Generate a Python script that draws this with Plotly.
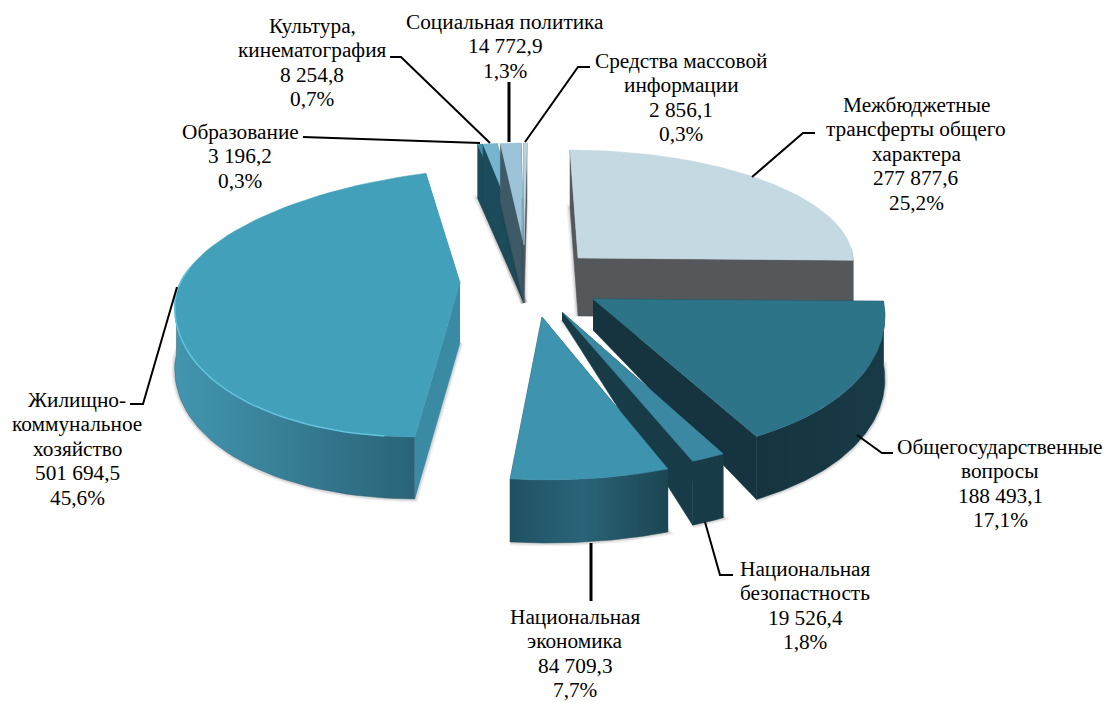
import numpy as np
import plotly.graph_objects as go

# clockwise from 12 o'clock
categories = [["Межбюджетные", "трансферты общего", "характера"], ["Общегосударственные", "вопросы"],
              ["Национальная", "безопастность"], ["Национальная", "экономика"],
              ["Жилищно-", "коммунальное", "хозяйство"], ["Образование"], ["Культура,", "кинематография"],
              ["Социальная политика"], ["Средства массовой", "информации"]]
amounts = [277877.6, 188493.1, 19526.4, 84709.3, 501694.5, 3196.2, 8254.8, 14772.9, 2856.1]
amount_labels = ["277 877,6", "188 493,1", "19 526,4", "84 709,3", "501 694,5", "3 196,2", "8 254,8", "14 772,9", "2 856,1"]
percent_labels = ["25,2%", "17,1%", "1,8%", "7,7%", "45,6%", "0,3%", "0,7%", "1,3%", "0,3%"]

# fake perspective, one set per slice: apex x/y, x radius, y radius above/below apex, skew x, skew y, depth at rim/apex
cx = [578, 593, 562, 542, 460, 524, 524, 524, 524]
cy = [258, 299, 312, 317, 283, 245, 245, 245, 245]
rx = [275, 290, 310, 333, 285, 263, 298, 245, 213]
ry_top = [108, 108, 108, 108, 114, 102, 102, 102, 102]
ry_bot = [155, 155, 160, 163, 153, 155, 155, 155, 155]
skew_x = [-8, -33, -20, -6, 13, -3, 3, 1, 3]
skew_y = [0, 0, 0, 0, -17, 0, 0, 0, 0]
depth_rim = [58, 63, 64, 63, 62, 54, 56, 58, 58]
depth_apex = [58, 31, 8, 30, 60, 58, 58, 58, 58]

top_colors = ["#C5D9E3", "#2E7488", "#3A88A2", "#3E93AE", "#43A0BA", "#3C8CA6", "#76B5CE", "#9CC3D7", "#B9D3DF"]
wall_colors = ["#54585B", "#15343F", "#173C48", "#1D4A5A", "#3A8AA4", "#1C4C5C", "#1C4C5C", "#3E5A66", "#55595C"]
rim_scales = [
    [[0, "#54585B"], [1, "#54585B"]],
    [[0, "#15343F"], [1, "#183A46"]],
    [[0, "#173C48"], [1, "#173C48"]],
    [[0, "#1F5163"], [0.45, "#2A6478"], [1, "#1C4552"]],
    [[0, "#4296B0"], [0.55, "#357A91"], [1, "#2A6377"]],
    [[0, "#1C4C5C"], [1, "#1C4C5C"]],
    [[0, "#1C4C5C"], [1, "#1C4C5C"]],
    [[0, "#3E5A66"], [1, "#3E5A66"]],
    [[0, "#55595C"], [1, "#55595C"]],
]
highlights = [None, None, None, None, "#63C3DD", None, None, None, None]

# far slices first
draw_order = [0, 5, 6, 7, 8, 4, 1, 2, 3]

# label centre x, y of the first line
label_x = [916, 1000, 805, 575, 77, 240, 312, 505, 681]
label_y = [105, 447, 569, 617, 400, 132, 26, 22, 61]
line_step = 24.4

leaders = [
    ([752, 803, 815], [177, 133, 133], 2),
    ([857, 882, 893], [435, 453, 453], 2),
    ([705, 720, 733], [522, 575, 575], 2),
    ([591, 591], [543, 601], 3),
    ([177, 143, 130], [287, 404, 404], 2),
    ([303, 480], [137, 143], 2),
    ([390, 401, 490], [57, 57, 143], 2),
    ([509, 509], [82, 142], 3),
    ([525, 578, 590], [142, 67, 67], 2),
]

total = sum(amounts)
edges = np.concatenate([[0], np.cumsum(amounts)]) / total * 2 * np.pi


def rim(i, t):
    ry = np.where(np.cos(t) > 0, ry_top[i], ry_bot[i])
    x = cx[i] + rx[i] * np.sin(t) + skew_x[i] * np.cos(t)
    y = cy[i] - ry * np.cos(t) + skew_y[i] * np.sin(t)
    return x, y


fig = go.Figure()


def poly(x, y, color=None, scale=None):
    kw = dict(fillgradient=dict(type="horizontal", colorscale=scale)) if scale else dict(fillcolor=color)
    fig.add_trace(go.Scatter(x=list(x), y=list(y), mode="lines", fill="toself", line=dict(width=0.5, color=color or scale[-1][1]),
                             hoverinfo="skip", showlegend=False, **kw))


for i in draw_order:
    t = np.linspace(edges[i], edges[i + 1], 80)
    ax, ay = rim(i, t)
    d = depth_rim[i]
    da = depth_apex[i]
    # only the near part of the rim faces us
    front = np.cos(t) < 0.1
    # soft edge under the slice
    for width, alpha in [(7, 0.07), (4, 0.12)]:
        fig.add_trace(go.Scatter(x=np.r_[cx[i], ax], y=np.r_[cy[i] + da, ay + d], mode="lines",
                                 line=dict(width=width, color=f"rgba(60,60,60,{alpha})"), hoverinfo="skip", showlegend=False))
    # radial walls
    for k in [0, -1]:
        poly([cx[i], ax[k], ax[k], cx[i]], [cy[i], ay[k], ay[k] + d, cy[i] + da], color=wall_colors[i])
    if front.any():
        poly(np.r_[ax[front], ax[front][::-1]], np.r_[ay[front], (ay[front] + d)[::-1]], scale=rim_scales[i])
    # top face
    poly(np.r_[cx[i], ax, cx[i]], np.r_[cy[i], ay, cy[i]], color=top_colors[i])
    if highlights[i]:
        lit = np.cos(t) < 0.3
        fig.add_trace(go.Scatter(x=ax[lit][3:], y=ay[lit][3:], mode="lines", line=dict(width=1.5, color=highlights[i]),
                                 hoverinfo="skip", showlegend=False))

for lx, ly, w in leaders:
    fig.add_trace(go.Scatter(x=lx, y=ly, mode="lines", line=dict(color="black", width=w), hoverinfo="skip", showlegend=False))

for i in range(len(categories)):
    lines = categories[i] + [amount_labels[i], percent_labels[i]]
    for n, line in enumerate(lines):
        fig.add_annotation(x=label_x[i], y=label_y[i] + n * line_step, xanchor="center", yanchor="middle", showarrow=False,
                           text=line, font=dict(family="Liberation Serif", size=21.3, color="black"))

fig.update_xaxes(range=[0, 1108], visible=False, fixedrange=True)
fig.update_yaxes(range=[703, 0], visible=False, fixedrange=True)
fig.update_layout(width=1108, height=703, margin=dict(l=0, r=0, t=0, b=0), paper_bgcolor="white", plot_bgcolor="white")
fig.write_html("out.html", config=dict(displayModeBar=False),
               post_script="document.body.style.margin='0';document.body.style.overflow='hidden';")
